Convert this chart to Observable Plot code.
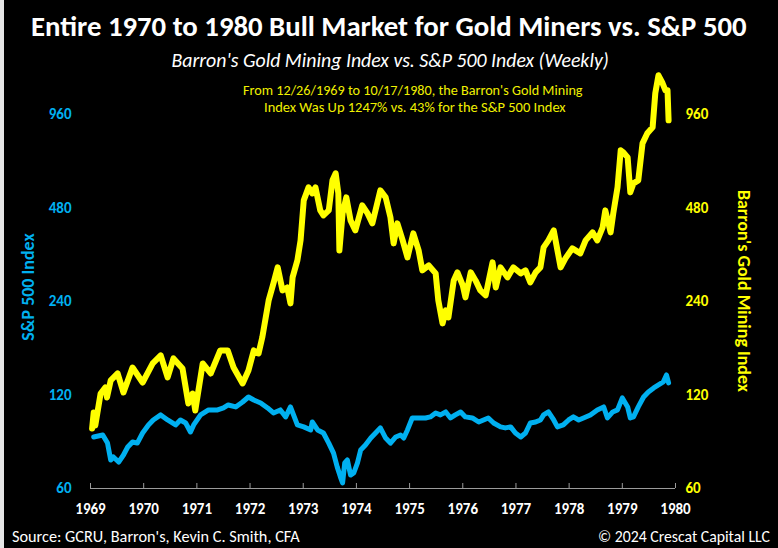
<!DOCTYPE html>
<html>
<head>
<meta charset="utf-8">
<script src="https://cdn.jsdelivr.net/npm/d3@7"></script>
<script src="https://cdn.jsdelivr.net/npm/@observablehq/plot@0.6"></script>
<style>
  html, body { margin: 0; padding: 0; background: #000; }
  #wrap { position: relative; width: 778px; height: 548px; background: #000; overflow: hidden; }
  #wrap svg { position: absolute; left: 0; top: 0; }
  .t { position: absolute; white-space: nowrap; display: inline-block; line-height: 1; }
</style>
</head>
<body>
<div id="wrap"></div>
<script>
const FONT = "Carlito, Lato, 'Open Sans', sans-serif";

// ---- tick labels ----
const xTicks = [1969, 1970, 1971, 1972, 1973, 1974, 1975, 1976, 1977, 1978, 1979, 1980];
const yTicks = [60, 120, 240, 480, 960];

// ---- Barron's Gold Mining Index ----
const goldDates = [
  1969.03,1969.06,1969.09,1969.19,1969.28,1969.31,1969.38,1969.51,1969.62,1969.79,1969.98,
  1970.17,1970.32,1970.45,1970.56,1970.73,1970.84,1970.92,1970.97,
  1971.11,1971.26,1971.44,1971.58,1971.69,1971.86,1971.97,
  1972.07,1972.16,1972.23,1972.35,1972.44,1972.52,1972.61,1972.70,1972.76,1972.80,1972.89,1972.95,
  1973.01,1973.10,1973.17,1973.23,1973.32,1973.38,1973.48,1973.55,1973.61,1973.66,1973.68,1973.74,1973.81,1973.89,1973.98,
  1974.11,1974.21,1974.30,1974.45,1974.55,1974.64,1974.70,1974.77,1974.87,1974.96,
  1975.07,1975.17,1975.24,1975.36,1975.49,1975.54,1975.62,1975.68,1975.73,1975.83,1975.90,
  1976.00,1976.05,1976.15,1976.24,1976.33,1976.43,1976.56,1976.62,1976.71,1976.84,1976.95,
  1977.09,1977.18,1977.27,1977.37,1977.46,1977.52,1977.61,1977.71,1977.78,1977.84,1977.93,
  1978.06,1978.21,1978.31,1978.44,1978.53,1978.63,1978.68,1978.78,1978.83,1978.91,1978.97,
  1979.02,1979.10,1979.15,1979.21,1979.30,1979.38,1979.47,1979.57,1979.62,1979.68,1979.75,1979.81,1979.85,1979.87
];
const goldIndex = [
  93.6,105.4,95.7,121.3,126.9,117.8,133.6,140.7,122.2,147.1,131.6,
  151.6,160.8,136.6,157.3,146.1,112.7,121.3,107.0,
  151.6,140.7,166.9,166.9,147.1,130.7,143.9,
  166.9,163.2,183.8,241.8,274.3,308.8,260.4,266.2,236.5,286.7,325.2,377.2,
  507.4,558.8,534.5,558.8,471.2,454.0,471.2,588.6,619.9,534.5,350.3,460.8,518.9,437.5,406.2,
  489.0,460.8,427.9,546.5,518.9,447.3,368.9,427.9,377.2,332.5,
  397.3,350.3,302.0,313.4,295.4,241.8,203.9,224.5,213.1,280.4,297.6,
  270.2,247.2,297.6,280.4,260.4,250.9,320.5,266.2,308.8,286.7,308.8,
  295.4,302.0,276.3,297.6,308.8,358.1,377.2,406.2,350.3,308.8,330.1,
  355.5,342.6,377.2,400.3,377.2,415.4,471.2,400.3,460.8,558.8,735.1,
  724.3,697.9,538.4,575.6,588.6,774.3,833.9,871.8,1121.8,1281.9,1217.0,1146.9,1146.9,918.2
];

// ---- S&P 500 Index ----
const spxDates = [
  1969.06,1969.23,1969.32,1969.38,1969.43,1969.53,1969.62,1969.70,1969.79,1969.88,1969.98,
  1970.09,1970.18,1970.32,1970.45,1970.60,1970.69,1970.79,1970.88,1970.94,
  1971.07,1971.22,1971.39,1971.50,1971.59,1971.73,1971.86,1971.97,
  1972.07,1972.20,1972.33,1972.44,1972.57,1972.67,1972.76,1972.89,
  1973.01,1973.14,1973.17,1973.27,1973.38,1973.48,1973.57,1973.64,1973.70,1973.74,1973.78,1973.83,1973.89,1973.95,
  1974.02,1974.08,1974.17,1974.27,1974.36,1974.45,1974.55,1974.64,1974.74,1974.83,1974.89,1974.96,
  1975.05,1975.17,1975.30,1975.39,1975.49,1975.58,1975.68,1975.77,1975.86,1975.96,
  1976.05,1976.18,1976.30,1976.39,1976.48,1976.58,1976.71,1976.80,1976.90,1976.99,
  1977.09,1977.18,1977.27,1977.37,1977.46,1977.52,1977.61,1977.71,1977.78,1977.89,1977.99,
  1978.08,1978.18,1978.27,1978.40,1978.53,1978.65,1978.72,1978.82,1978.91,
  1979.00,1979.10,1979.15,1979.21,1979.30,1979.40,1979.49,1979.59,1979.68,1979.77,1979.83,1979.87
];
const spxIndex = [
  87.9,89.2,84.0,74.1,75.8,73.0,76.9,81.6,84.7,84.0,90.5,
  96.1,99.7,103.5,99.7,96.1,99.7,97.5,91.2,96.1,
  103.5,107.4,107.4,109.0,111.4,109.8,113.9,118.2,
  115.6,113.1,109.0,105.0,107.4,102.0,109.8,96.1,
  94.7,92.6,98.2,92.6,90.5,84.0,78.0,70.3,65.3,62.5,72.5,74.1,66.3,67.3,
  72.5,79.8,82.8,87.2,90.5,94.0,87.2,84.0,87.9,89.2,87.2,92.6,
  101.2,101.2,101.2,102.0,105.0,103.5,105.8,101.2,103.5,105.8,
  102.0,101.2,98.2,99.7,101.2,97.5,94.7,94.0,94.7,90.5,
  87.9,90.5,97.5,98.2,99.7,103.5,105.8,99.7,94.7,96.1,99.7,
  102.0,99.7,101.2,103.5,107.4,109.8,101.2,105.8,107.4,
  117.4,109.8,101.2,102.0,109.8,118.2,122.7,126.4,129.2,132.1,139.2,131.2
];

const gold = goldDates.map((d, i) => ({date: d, value: goldIndex[i]}));
const spx = spxDates.map((d, i) => ({date: d, value: spxIndex[i]}));

const BLUE = "#00B0F0";
const YELLOW = "#FFFF00";
const fmt = d3.format("d");

const chart = Plot.plot({
  width: 778,
  height: 548,
  marginLeft: 90,
  marginRight: 103,
  marginTop: 75,
  marginBottom: 60,
  style: {background: "transparent", color: "white", fontFamily: FONT, fontSize: "15px", overflow: "visible"},
  x: {domain: [1969, 1980]},
  y: {type: "log", domain: [60, 1280]},
  marks: [
    Plot.ruleY([60], {stroke: "#9b9b9b", strokeWidth: 1}),
    Plot.axisX({ticks: xTicks, tickSize: -5, stroke: "#9b9b9b", tickFormat: () => "", label: null}),
    Plot.axisX({ticks: xTicks, tickSize: 0, tickPadding: 15, tickFormat: d => String(d), fill: "white", fontWeight: "bold", fontSize: 15, label: null}),
    Plot.axisY({anchor: "left", ticks: yTicks, tickSize: 0, tickPadding: 19, tickFormat: fmt, fill: BLUE, fontWeight: "bold", fontSize: 15, label: null}),
    Plot.axisY({anchor: "right", ticks: yTicks, tickSize: 0, tickPadding: 10, tickFormat: fmt, fill: YELLOW, fontWeight: "bold", fontSize: 15, label: null}),
    Plot.line(gold, {x: "date", y: "value", stroke: YELLOW, strokeWidth: 6, strokeLinejoin: "round", strokeLinecap: "round"}),
    Plot.line(spx, {x: "date", y: "value", stroke: BLUE, strokeWidth: 5, strokeLinejoin: "round", strokeLinecap: "round"})
  ]
});

const wrap = document.getElementById("wrap");
wrap.appendChild(chart);

// light frame edge seen in the screenshot
const edge = document.createElement("div");
edge.style.cssText = "position:absolute;left:0;top:0;width:4px;height:548px;background:#e6e6e6;";
wrap.appendChild(edge);

// ---- texts ----
const texts = [
  {s: "Entire 1970 to 1980 Bull Market for Gold Miners vs. S&P 500", cx: 389, cy: 27, w: 716, weight: 700, color: "#ffffff"},
  {s: "Barron's Gold Mining Index vs. S&P 500 Index (Weekly)", cx: 390, cy: 61, w: 437, italic: true, color: "#ffffff"},
  {s: "From 12/26/1969 to 10/17/1980, the Barron's Gold Mining", cx: 413, cy: 90, w: 340, color: "#f0f000"},
  {s: "Index Was Up 1247% vs. 43% for the S&P 500 Index", cx: 415, cy: 107, w: 302, color: "#f0f000"},
  {s: "Source: GCRU, Barron's, Kevin C. Smith, CFA", left: 12, cy: 537, w: 288, color: "#ffffff"},
  {s: "© 2024 Crescat Capital LLC", right: 770, cy: 537, w: 172, color: "#ffffff"},
  {s: "S&P 500 Index", cx: 27, cy: 287, w: 107, weight: 700, color: BLUE, rot: -90},
  {s: "Barron's Gold Mining Index", cx: 743, cy: 291, w: 202, weight: 700, color: YELLOW, rot: 90}
];

for (const t of texts) {
  const el = document.createElement("div");
  el.className = "t";
  el.textContent = t.s;
  el.style.fontFamily = FONT;
  el.style.fontWeight = t.weight || 400;
  el.style.fontStyle = t.italic ? "italic" : "normal";
  el.style.color = t.color;
  el.style.fontSize = "20px";
  wrap.appendChild(el);
  const w0 = el.offsetWidth;
  const fs = 20 * t.w / w0;
  el.style.fontSize = fs.toFixed(2) + "px";
  const w = el.offsetWidth, h = el.offsetHeight;
  if (t.rot) {
    el.style.left = (t.cx - w / 2) + "px";
    el.style.top = (t.cy - h / 2) + "px";
    el.style.transform = `rotate(${t.rot}deg)`;
    el.style.transformOrigin = "50% 50%";
  } else if (t.left != null) {
    el.style.left = t.left + "px";
    el.style.top = (t.cy - h / 2) + "px";
  } else if (t.right != null) {
    el.style.left = (t.right - w) + "px";
    el.style.top = (t.cy - h / 2) + "px";
  } else {
    el.style.left = (t.cx - w / 2) + "px";
    el.style.top = (t.cy - h / 2) + "px";
  }
}
</script>
</body>
</html>
